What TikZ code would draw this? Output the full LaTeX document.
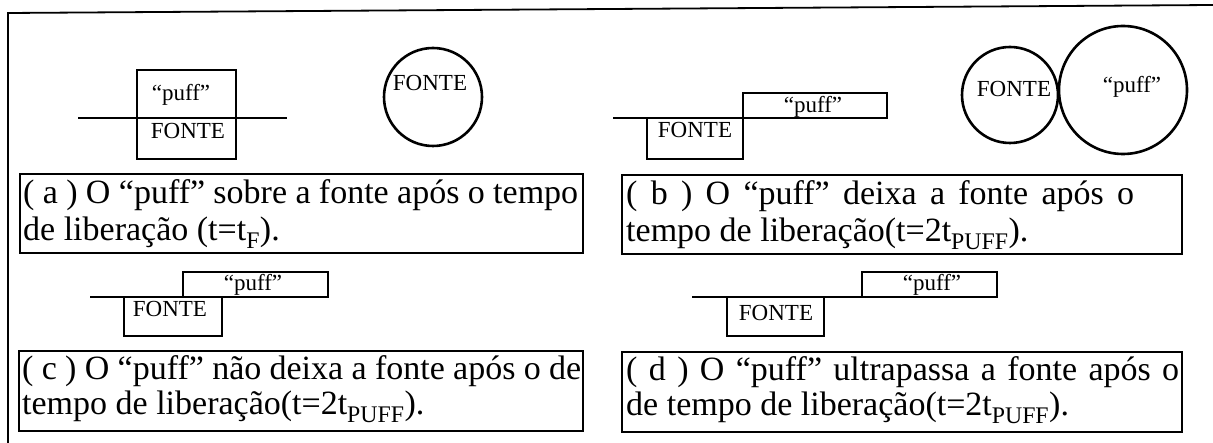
\documentclass[tikz,border=0pt]{standalone}
\usepackage{fontspec}
\setmainfont{Liberation Serif}
\begin{document}
\begin{tikzpicture}[x=1pt,y=-1pt,
  linea/.style={line width=2.6pt},
  riquadro/.style={line width=1.8pt},
  etich/.style={inner sep=0pt,anchor=base,font=\fontsize{23}{26}\selectfont},
  didasc/.style={inner sep=0pt,anchor=base west,font=\fontsize{34}{40}\selectfont}]

\useasboundingbox (0,0) rectangle (1213,443);

% Cornice esterna
\draw[riquadro] (8,443) -- (8,13) -- (1213,5);

% --- Parte (a): puff sopra la fonte ---
\draw[linea] (137,70) rectangle (236,159);
\draw[linea] (78,118) -- (287,118);
\node[etich] (puffA) at (181,101) {“puff”};
\node[etich] (fonteA) at (188,139) {FONTE};
\draw[linea] (433,97) circle[radius=49pt];
\node[etich] (fonteAc) at (430,91) {FONTE};

\draw[riquadro] (20,174) rectangle (583,253);
\node[didasc] (didA1) at (23,204) {\makebox[555pt][s]{( a ) O “puff” sobre a fonte após o tempo}};
\node[didasc] (didA2) at (23,241) {de liberação (t=t\textsubscript{F}).};

% --- Parte (b): il puff lascia la fonte ---
\draw[linea] (613,118) -- (743,118);
\draw[linea] (647,118) rectangle (743,159);
\draw[linea] (743,93) rectangle (887,118);
\node[etich] (puffB) at (813,113) {“puff”};
\node[etich] (fonteB) at (695,138) {FONTE};
\draw[linea] (1010,95) circle[radius=48pt];
\draw[linea] (1123,90) circle[radius=64pt];
\node[etich] (fonteBc) at (1014,97) {FONTE};
\node[etich] (puffBc) at (1132,93) {“puff”};

\draw[riquadro] (622,175) rectangle (1182,254);
\node[didasc] (didB1) at (626,205) {\makebox[508pt][s]{( b ) O “puff” deixa a fonte após o}};
\node[didasc] (didB2) at (626,242) {tempo de liberação(t=2t\textsubscript{PUFF}).};

% --- Parte (c) ---
\draw[linea] (90,297) -- (183,297);
\draw[linea] (124,297) rectangle (222,336);
\draw[linea] (183,272) rectangle (328,297);
\node[etich] (puffC) at (253,291) {“puff”};
\node[etich] (fonteC) at (170,317) {FONTE};

\draw[riquadro] (19,351) rectangle (583,431);
\node[didasc] (didC1) at (22,380) {\makebox[559pt][s]{( c ) O “puff” não deixa a fonte após o de}};
\node[didasc] (didC2) at (22,415) {tempo de liberação(t=2t\textsubscript{PUFF}).};

% --- Parte (d) ---
\draw[linea] (692,297) -- (862,297);
\draw[linea] (727,297) rectangle (824,336);
\draw[linea] (862,272) rectangle (997,297);
\node[etich] (puffD) at (932,291) {“puff”};
\node[etich] (fonteD) at (776,321) {FONTE};

\draw[riquadro] (622,352) rectangle (1182,432);
\node[didasc] (didD1) at (626,381) {\makebox[553pt][s]{( d ) O “puff” ultrapassa a fonte após o}};
\node[didasc] (didD2) at (626,416) {de tempo de liberação(t=2t\textsubscript{PUFF}).};

\end{tikzpicture}
\end{document}
